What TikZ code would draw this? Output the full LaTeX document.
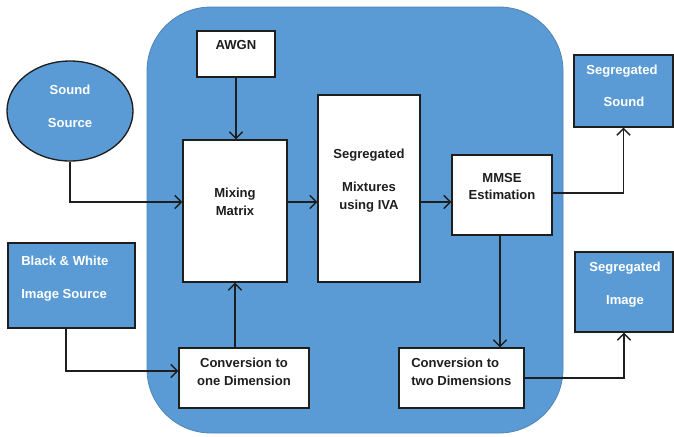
\documentclass[tikz,border=0pt]{standalone}
\usepackage{fontspec}
\setmainfont{Liberation Sans}
\usetikzlibrary{arrows.meta,shapes.geometric}
\definecolor{bgblue}{HTML}{5B9BD5}
\definecolor{ink}{HTML}{1E1E1E}
\begin{document}
\begin{tikzpicture}[x=0.75pt,y=-0.75pt,
  panel/.style={draw=bgblue!85!black,line width=0.6pt,fill=bgblue,rounded corners=48pt,inner sep=0pt},
  wbox/.style={draw=ink,line width=1pt,fill=white,inner sep=0pt},
  bbox/.style={draw=ink,line width=1pt,fill=bgblue,inner sep=0pt},
  wtxt/.style={font=\fontsize{9.8}{11}\selectfont\bfseries,text=ink,inner sep=0pt,anchor=base},
  btxt/.style={font=\fontsize{9.8}{11}\selectfont\bfseries,text=white,inner sep=0pt,anchor=base},
  conn/.style={draw=ink,line width=1pt,-{Straight Barb[length=5pt,width=10pt]}}]
\useasboundingbox (0,0) rectangle (674,436);
\node[panel,minimum width=312pt,minimum height=319.5pt] (panel) at (355,220) {};
% boxes
\node[wbox,minimum width=58.5pt,minimum height=34.5pt] (awgn) at (236,54) {};
\node[wbox,minimum width=78pt,minimum height=106.5pt] (mix) at (235,211) {};
\node[wbox,minimum width=76.5pt,minimum height=140.25pt] (segmix) at (369,188.5) {};
\node[wbox,minimum width=75pt,minimum height=60pt] (mmse) at (502,195) {};
\node[bbox,minimum width=74.25pt,minimum height=54pt] (segsnd) at (623.5,91) {};
\node[bbox,minimum width=95.25pt,minimum height=63.75pt] (bw) at (71.5,285.5) {};
\node[wbox,minimum width=97.5pt,minimum height=45pt] (conv1) at (244,378) {};
\node[wbox,minimum width=93.75pt,minimum height=45pt] (conv2) at (461.5,378) {};
\node[bbox,minimum width=73.5pt,minimum height=60pt] (segimg) at (624,292) {};
\node[ellipse,draw=ink,line width=1pt,fill=bgblue,minimum width=94.5pt,minimum height=75pt,inner sep=0pt] (snd) at (70,111) {};
% texts
\node[btxt] (t1) at (70,94.5) {Sound};
\node[btxt] (t2) at (70,127.5) {Source};
\node[wtxt] (t3) at (236,49.5) {AWGN};
\node[wtxt] (t4) at (235,197.5) {Mixing};
\node[wtxt] (t5) at (235,215.5) {Matrix};
\node[wtxt] (t6) at (369,158.5) {Segregated};
\node[wtxt] (t7) at (369,191.5) {Mixtures};
\node[wtxt] (t8) at (369,209.5) {using IVA};
\node[wtxt] (t9) at (502,182.5) {MMSE};
\node[wtxt] (t10) at (502,199.5) {Estimation};
\node[btxt] (t11) at (622,74.5) {Segregated};
\node[btxt] (t12) at (624,106.5) {Sound};
\node[btxt,anchor=base west] (t13) at (21,265.5) {Black \& White};
\node[btxt,anchor=base west] (t14) at (21,298.5) {Image Source};
\node[wtxt] (t15) at (244,367.5) {Conversion to};
\node[wtxt] (t16) at (244,385.5) {one Dimension};
\node[wtxt,anchor=base west] (t17) at (411,367.5) {Conversion to};
\node[wtxt,anchor=base west] (t18) at (411,385.5) {two Dimensions};
\node[btxt] (t19) at (625,271.5) {Segregated};
\node[btxt] (t20) at (625,304.5) {Image};
% connectors
\draw[conn] (snd.south) |- (mix.west |- 0,202);
\draw[conn] (awgn.south) -- (awgn.south |- mix.north);
\draw[conn] (mix.east |- 0,202) -- (segmix.west |- 0,202);
\draw[conn] (segmix.east |- 0,202) -- (mmse.west |- 0,202);
\draw[conn] (mmse.east |- 0,193) -| (segsnd.south);
\draw[conn] (mmse.south -| 500,0) -- (conv2.north -| 500,0);
\draw[conn] (mix.south |- conv1.north) -- (mix.south);
\draw[conn] (bw.south -| 66,0) |- (conv1.west |- 0,371);
\draw[conn] (conv2.east) -| (segimg.south);
\end{tikzpicture}
\end{document}
